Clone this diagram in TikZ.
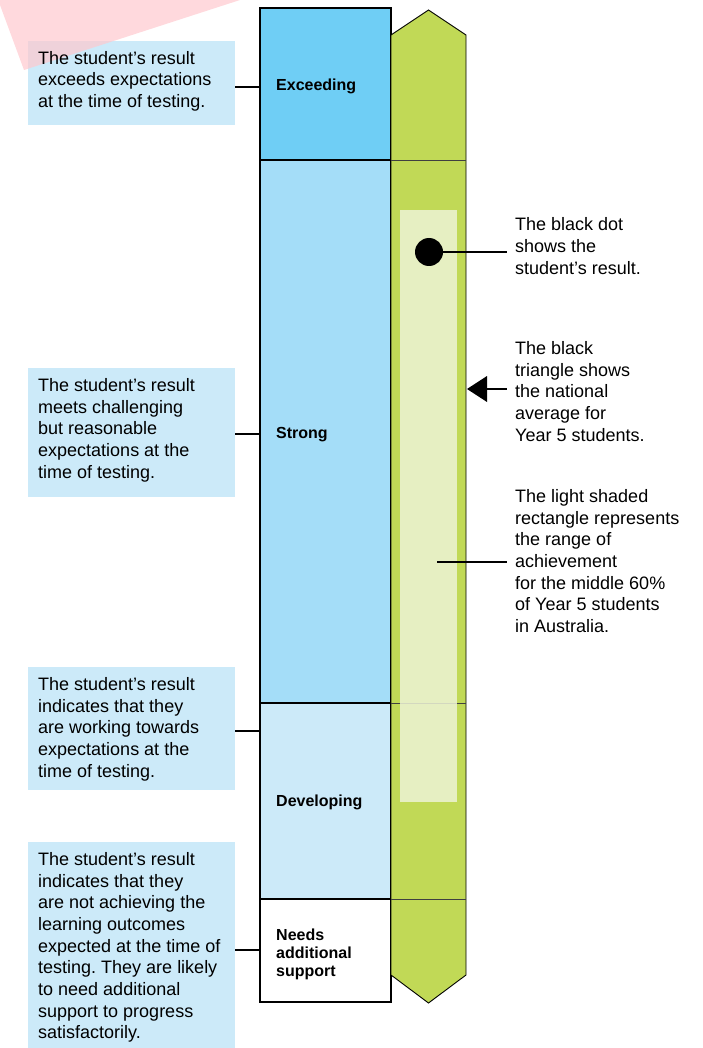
\documentclass[tikz,border=0pt]{standalone}
\usepackage{fontspec}
\setmainfont{Liberation Sans}
\frenchspacing
\usetikzlibrary{positioning}
\definecolor{exceedblue}{HTML}{6FCEF5}
\definecolor{strongblue}{HTML}{A4DDF8}
\definecolor{devblue}{HTML}{CCEAF9}
\definecolor{notefill}{HTML}{CCEAF9}
\definecolor{bargreen}{HTML}{C1D956}
\definecolor{rangefill}{HTML}{EDF3D6}
\definecolor{pinkwedge}{HTML}{FFC9CE}

\begin{document}
\begin{tikzpicture}[x=1pt,y=-1pt]

    \tikzset{
      notebox/.style={fill=notefill, inner sep=0pt, minimum width=207pt},
      notetext/.style={anchor=base west, inner sep=0pt, align=left,
        font=\fontsize{18}{21.7}\selectfont},
      band/.style={draw=black, line width=1.4pt, inner sep=0pt, minimum width=131pt},
      bandlabel/.style={anchor=base west, inner sep=0pt, align=left,
        font=\fontsize{16}{18}\selectfont\bfseries},
      link/.style={draw=black, line width=1.4pt},
      divider/.style={draw=black!75, line width=0.7pt},
    }
    \useasboundingbox (0,0) rectangle (703,1048);

	\node[notebox, minimum height=84pt] (exc box) at (131.5,83) {};
	\node[notebox, minimum height=129pt] (str box) at (131.5,432.5) {};
	\node[notebox, minimum height=123pt] (dev box) at (131.5,728.5) {};
	\node[notebox, minimum height=206pt] (need box) at (131.5,945) {};
	\fill[pinkwedge, fill opacity=0.7] (0,0)--(240,0)--(24,70)--(0,5)--cycle;

	% base of a multi-line node sits on its last line
	\node[notetext] (exc text) at (38,107.7) {The student’s result\\exceeds expectations\\at the time of testing.};
	\node[notetext] (str text) at (38,478.1) {The student’s result\\meets challenging\\but reasonable\\expectations at the\\time of testing.};
	\node[notetext] (dev text) at (38,777.1) {The student’s result\\indicates that they\\are working towards\\expectations at the\\time of testing.};
	\node[notetext] (need text) at (38,1038.9) {The student’s result\\indicates that they\\are not achieving the\\learning outcomes\\expected at the time of\\testing. They are likely\\to need additional\\support to progress\\satisfactorily.};

	\node[band, fill=exceedblue, minimum height=152pt] (exc band) at (325.5,84) {};
	\node[band, fill=strongblue, minimum height=543pt] (str band) at (325.5,431.5) {};
	\node[band, fill=devblue, minimum height=196pt] (dev band) at (325.5,801) {};
	\node[band, fill=white, minimum height=103pt] (need band) at (325.5,950.5) {};

	\node[bandlabel] (exc label) at (276,90.7) {Exceeding};
	\node[bandlabel] (str label) at (276,438.7) {Strong};
	\node[bandlabel] (dev label) at (276,806.7) {Developing};
	\node[bandlabel] (need label) at (276,976.7) {Needs\\additional\\support};

	\draw[link] ([yshift=-4pt]exc box.east) -- ([yshift=-4pt]exc box.east -| exc band.west);
	\draw[link] ([yshift=-1.5pt]str box.east) -- ([yshift=-1.5pt]str box.east -| str band.west);
	\draw[link] ([yshift=-2.5pt]dev box.east) -- ([yshift=-2.5pt]dev box.east -| dev band.west);
	\draw[link] ([yshift=-5pt]need box.east) -- ([yshift=-5pt]need box.east -| need band.west);

	\draw[fill=bargreen, draw=black, line width=0.9pt] (391,35)--(428.5,10)--(466,35)--(466,975)--(428.5,1003)--(391,975)--cycle;
	\draw[divider] (391,160)--(466,160);
	\draw[divider] (391,703)--(466,703);
	\draw[divider] (391,899)--(466,899);
	\fill[rangefill, fill opacity=0.85] (400,210) rectangle (457,802);

	\node[circle, fill=black, inner sep=0pt, minimum size=28pt] (dot) at (429,252) {};
	\coordinate (dot end) at (507,252);
	\draw[link] (dot) -- (dot end);

	\fill[black] (467,389)--(487,376)--(487,402)--cycle;
	\coordinate (avg base) at (487,389);
	\coordinate (avg end) at (507,389);
	\draw[link] (avg base) -- (avg end);

	\coordinate (range mid) at (437,562);
	\coordinate (range end) at (507,562);
	\draw[link] (range mid) -- (range end);

	\node[notetext] (dot text) at (515,274.4) {The black dot\\shows the\\student’s result.};
	\node[notetext] (avg text) at (515,441.1) {The black\\triangle shows\\the national\\average for\\Year 5 students.};
	\node[notetext] (range text) at (515,632.5) {The light shaded\\rectangle represents\\the range of\\achievement\\for the middle 60\%\\of Year 5 students\\in Australia.};

\end{tikzpicture}
\end{document}
